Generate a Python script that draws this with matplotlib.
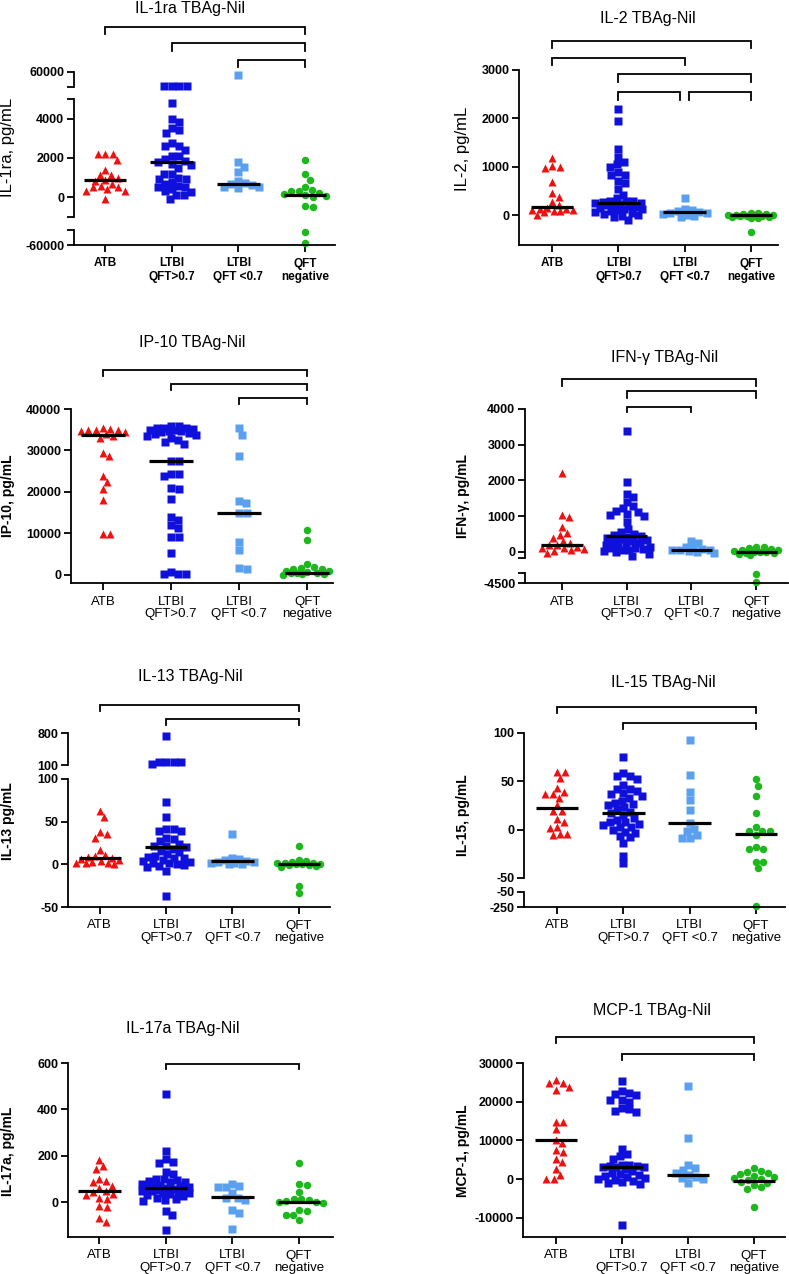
import numpy as np
import matplotlib.pyplot as plt
from matplotlib.transforms import blended_transform_factory

plt.rcParams['font.family'] = ['Liberation Sans', 'DejaVu Sans']

W, H = 789, 1274

groups = ['ATB', 'LTBI\nQFT>0.7', 'LTBI\nQFT <0.7', 'QFT\nnegative']
colors = ['#ee1111', '#1010dd', '#5aa0ee', '#1cb81c']
markers = ['^', 's', 's', 'o']
msize = [6.2, 5.2, 5.2, 5.4]

# ---- data (pg/mL) ----
il1ra_atb = [2200, 2200, 2200, 1900, 1400, 1150, 1150, 1000, 900, 850, 700, 500, 500, 400, 300, 300, -100, 600]
il1ra_hi = [51000, 51000, 51000, 51000, 4800, 3980, 3850, 3500, 3400, 3250, 2750, 2600, 2600, 2400,
            2100, 2100, 1950, 1850, 1800, 1700, 1650, 1500, 1200, 1200, 1000, 950, 950, 800, 700,
            600, 500, 500, 400, 300, 250, 100, 100, -100]
il1ra_lo = [58000, 1800, 1550, 1300, 850, 750, 700, 650, 550, 500, 450]
il1ra_neg = [1900, 1200, 900, 500, 350, 300, 300, 200, 150, 100, 50, 0, -450, -500, -51000, -58500]
il1ra_med = [870, 1800, 690, 120]

il2_atb = [1180, 1000, 980, 1020, 680, 450, 380, 260, 200, 150, 130, 120, 110, 100, 90, 80, 60, 0]
il2_hi = [2200, 1950, 1370, 1200, 1100, 1050, 1000, 880, 830, 820, 700, 660, 530, 420, 350, 300, 280,
          280, 260, 250, 240, 230, 220, 200, 180, 160, 150, 130, 120, 100, 80, 60, 50, 30, 10, -20, -50, -100]
il2_lo = [350, 120, 100, 80, 60, 50, 40, 30, 0, -20, -40]
il2_neg = [50, 40, 30, 20, 10, 0, 0, -10, -10, -20, -30, -40, -50, -60, -70, -350]
il2_med = [160, 240, 55, 0]

ip10_atb = [35500, 35200, 35000, 35000, 34900, 34800, 34500, 34000, 33500, 33000, 29500, 28600,
            23800, 22300, 20800, 18100, 9900, 9900]
ip10_hi = [36000, 35800, 35500, 35500, 35300, 35200, 35000, 35000, 34800, 34700, 34500, 34200, 34000,
           33800, 33500, 33000, 32500, 32000, 31500, 27500, 27500, 24300, 24200, 23800, 21000, 20700,
           18200, 14000, 13200, 12000, 11200, 9200, 9000, 5300, 700, 100, 100, 100]
ip10_lo = [35300, 33700, 28700, 17800, 17300, 15000, 14800, 8000, 6000, 1700, 1300]
ip10_neg = [10900, 8500, 2500, 1800, 1600, 1500, 1400, 1000, 800, 600, 500, 400, 300, 200, 100, 50]
ip10_med = [33700, 27500, 15000, 500]

ifng_atb = [2200, 1030, 970, 690, 540, 480, 390, 300, 250, 200, 180, 150, 120, 100, 80, 50, 20, -20]
ifng_hi = [3380, 1970, 1620, 1530, 1400, 1280, 1230, 1150, 1130, 1050, 1030, 1000, 830, 630, 560, 500,
           480, 450, 420, 400, 350, 320, 300, 280, 250, 220, 200, 180, 150, 120, 100, 80, 60, 40, 20,
           0, -50, -120]
ifng_lo = [300, 250, 150, 100, 80, 60, 50, 40, 20, 0, -30]
ifng_neg = [150, 130, 100, 80, 60, 40, 20, 10, 0, -10, -20, -30, -50, -80, -3850, -4400]
ifng_med = [190, 440, 50, 0]

il13_atb = [62, 55, 38, 36, 31, 17, 11, 10, 9, 8, 6, 5, 4, 3, 2, 1, 1, 0]
il13_hi = [745, 175, 172, 165, 160, 118, 73, 55, 41, 41, 39, 39, 31, 30, 27, 24, 22, 21, 20, 18, 16,
           14, 12, 10, 9, 8, 7, 5, 4, 3, 2, 1, 0, -1, -2, -3, -8, -37]
il13_lo = [35, 8, 6, 5, 4, 3, 3, 2, 1, 0, 0]
il13_neg = [22, 5, 4, 3, 2, 1, 1, 0, 0, 0, -1, -1, -2, -3, -25, -34]
il13_med = [8, 20, 4, 0.5]

il15_atb = [60, 60, 53, 43, 39, 37, 37, 33, 25, 19, 19, 11, 8, 3, 2, -4, -4, -6]
il15_hi = [75, 59, 55, 55, 52, 46, 42, 42, 40, 38, 37, 35, 33, 30, 28, 27, 25, 23, 21, 18, 17, 15,
           12, 10, 8, 8, 6, 5, 3, 3, 0, -2, -3, -7, -8, -14, -27, -35]
il15_lo = [93, 57, 39, 31, 20, 7, 1, -1, -6, -9, -9]
il15_neg = [52, 45, 35, 17, 3, -1, -1, -1, -6, -18, -20, -20, -33, -33, -40, -230]
il15_med = [22, 17, 7, -4]

il17_atb = [183, 155, 145, 100, 90, 85, 70, 60, 50, 45, 35, 30, 20, 15, -15, -20, -70, -85]
il17_hi = [465, 222, 185, 175, 170, 130, 120, 100, 98, 95, 90, 88, 85, 80, 75, 70, 68, 65, 62, 60,
           58, 55, 52, 50, 48, 45, 40, 38, 35, 30, 25, 20, 15, 10, 5, -40, -55, -120]
il17_lo = [80, 70, 65, 65, 40, 20, 20, 10, -35, -45, -115]
il17_neg = [170, 78, 75, 45, 15, 12, 8, 5, 2, 0, -2, -35, -38, -55, -55, -75]
il17_med = [50, 60, 22, 3]

mcp1_atb = [25500, 24900, 24700, 23700, 23000, 14800, 14800, 12900, 10200, 9300, 7500, 7000, 5300,
            4300, 2500, 1000, 100, 0]
mcp1_hi = [25300, 22700, 22300, 22000, 21800, 20500, 20500, 20000, 18300, 18000, 17500, 17200, 7800,
           6500, 6000, 5100, 3700, 3500, 3400, 3300, 3200, 3100, 3000, 2500, 2000, 1500, 1200, 1000,
           800, 500, 300, 0, -200, -500, -800, -1000, -1200, -11800]
mcp1_lo = [24000, 10500, 3700, 2900, 2200, 1500, 1000, 500, 300, 0, -1000]
mcp1_neg = [2800, 2000, 1800, 1500, 1200, 800, 500, 200, 0, -300, -800, -1000, -1500, -2000, -2500, -7300]
mcp1_med = [10000, 3200, 1000, -400]

# ---- layout (pixels) ----
panels = [
    dict(title='IL-1ra TBAg-Nil', tpos=(190, 9), ylabel='IL-1ra, pg/mL', lpos=(8, 147), newstyle=False,
         left=74, right=335, xlim=(-0.465, 3.45),
         segs=[(72, 87, (50000, 60000), [60000], [50000]),
               (99, 217, (-1000, 5000), [0, 2000, 4000], [-1000, 5000]),
               (230, 245, (-60000, -50000), [-60000], [-50000])],
         brk=[(0, 3, 27, 7), (1, 3, 43, 8), (2, 3, 60, 7)],
         data=[il1ra_atb, il1ra_hi, il1ra_lo, il1ra_neg], med=il1ra_med),
    dict(title='IL-2 TBAg-Nil', tpos=(648, 18), ylabel='IL-2, pg/mL', lpos=(462, 149), newstyle=False,
         left=519, right=778, xlim=(-0.5, 3.41),
         segs=[(70, 245, (-620, 3000), [0, 1000, 2000, 3000], [])],
         brk=[(0, 3, 41, 7), (0, 2, 58, 7), (1, 3, 74, 8), (1, 1.93, 92, 8), (2.07, 3, 92, 8)],
         data=[il2_atb, il2_hi, il2_lo, il2_neg], med=il2_med),
    dict(title='IP-10 TBAg-Nil', tpos=(192, 342), ylabel='IP-10, pg/mL', lpos=(8, 496), newstyle=True,
         left=71, right=333, xlim=(-0.47, 3.38),
         segs=[(409, 583, (-2000, 40000), [0, 10000, 20000, 30000, 40000], [])],
         brk=[(0, 3, 370, 6), (1, 3, 384, 6), (2, 3, 398, 6)],
         data=[ip10_atb, ip10_hi, ip10_lo, ip10_neg], med=ip10_med),
    dict(title='IFN-γ TBAg-Nil', tpos=(665, 358), ylabel='IFN-γ, pg/mL', lpos=(463, 496), newstyle=True,
         left=525, right=788, xlim=(-0.57, 3.49),
         segs=[(409, 558, (-170, 4000), [0, 1000, 2000, 3000, 4000], [-170]),
               (573, 583, (-4500, -3800), [-4500], [-3800])],
         brk=[(0, 3, 379, 7), (1, 3, 391, 7), (1, 2, 407, 5)],
         data=[ifng_atb, ifng_hi, ifng_lo, ifng_neg], med=ifng_med),
    dict(title='IL-13 TBAg-Nil', tpos=(190, 677), ylabel='IL-13 pg/mL', lpos=(8, 821), newstyle=True,
         left=68, right=330, xlim=(-0.48, 3.47),
         segs=[(733, 765, (100, 800), [100, 800], []),
               (779, 907, (-50, 100), [-50, 0, 50, 100], [])],
         brk=[(0, 3, 705, 6), (1, 3, 719, 6)],
         data=[il13_atb, il13_hi, il13_lo, il13_neg], med=il13_med),
    dict(title='IL-15 TBAg-Nil', tpos=(663, 683), ylabel='IL-15, pg/mL', lpos=(463, 815), newstyle=True,
         left=524, right=785, xlim=(-0.5, 3.44),
         segs=[(733, 878, (-50, 100), [-50, 0, 50, 100], []),
               (892, 907, (-250, -50), [-250, -50], [])],
         brk=[(0, 3, 707, 6), (1, 3, 723, 6)],
         data=[il15_atb, il15_hi, il15_lo, il15_neg], med=il15_med),
    dict(title='IL-17a TBAg-Nil', tpos=(183, 1028), ylabel='IL-17a, pg/mL', lpos=(8, 1151), newstyle=True,
         left=68, right=333, xlim=(-0.47, 3.51),
         segs=[(1063, 1237, (-150, 600), [0, 200, 400, 600], [])],
         brk=[(1, 3, 1064, 5)],
         data=[il17_atb, il17_hi, il17_lo, il17_neg], med=il17_med),
    dict(title='MCP-1 TBAg-Nil', tpos=(652, 1010), ylabel='MCP-1, pg/mL', lpos=(463, 1151), newstyle=True,
         left=523, right=785, xlim=(-0.5, 3.47),
         segs=[(1063, 1237, (-15000, 30000), [-10000, 0, 10000, 20000, 30000], [])],
         brk=[(0, 3, 1037, 6), (1, 3, 1054, 6)],
         data=[mcp1_atb, mcp1_hi, mcp1_lo, mcp1_neg], med=mcp1_med),
]

LW = 1.3

fig = plt.figure(figsize=(W / 100, H / 100), dpi=100)
fig.patch.set_facecolor('white')


def swarm(ypx, d, maxw):
    # simple beeswarm in pixel units, returns x offsets in pixels
    ypx = np.asarray(ypx, float)
    xs = np.zeros(len(ypx))
    cands = [0.0]
    for s in np.arange(0.5, maxw + 0.01, 0.5):
        cands += [s, -s]
    px, py = [], []
    for idx in np.argsort(-ypx):
        y = ypx[idx]
        best, bestd = 0.0, -1.0
        for c in cands:
            md = np.min(np.hypot(np.array(px) - c, np.array(py) - y)) if px else np.inf
            if md >= d:
                best = c
                break
            if md > bestd:
                best, bestd = c, md
        xs[idx] = best
        px.append(best)
        py.append(y)
    return xs


def seg_for(axes, v):
    for ax in axes:
        lo, hi = ax.get_ylim()
        if lo - 1e-9 <= v <= hi + 1e-9:
            return ax
    return min(axes, key=lambda a: min(abs(v - a.get_ylim()[0]), abs(v - a.get_ylim()[1])))


for p in panels:
    axes = []
    n = len(p['segs'])
    for k, (top, bot, ylim, ticks, caps) in enumerate(p['segs']):
        ax = fig.add_axes([p['left'] / W, 1 - bot / H, (p['right'] - p['left']) / W, (bot - top) / H])
        ax.set_xlim(p['xlim'])
        ax.set_ylim(ylim)
        ax.patch.set_alpha(0)
        for s in ['top', 'right']:
            ax.spines[s].set_visible(False)
        ax.spines['left'].set_linewidth(LW)
        ax.spines['bottom'].set_linewidth(LW)
        ax.set_yticks(list(ticks) + list(caps))
        ax.set_yticklabels([str(int(t)) for t in ticks] + [''] * len(caps),
                           fontsize=9, fontweight='bold')
        ax.tick_params(axis='y', direction='out', length=5, width=LW, pad=2)
        if k == n - 1:
            ax.set_xticks(range(4))
            if p['newstyle']:
                ax.set_xticklabels(groups, fontsize=9.5, linespacing=1.1)
            else:
                ax.set_xticklabels(groups, fontsize=8.5, fontweight='bold', linespacing=1.15)
            ax.tick_params(axis='x', direction='out', length=5, width=LW, pad=4)
        else:
            ax.spines['bottom'].set_visible(False)
            ax.set_xticks([])
        axes.append(ax)

    # points
    ax0 = axes[0]
    upx = ax0.transData.transform((1, 0))[0] - ax0.transData.transform((0, 0))[0]
    for g, vals in enumerate(p['data']):
        ypx = [seg_for(axes, v).transData.transform((0, v))[1] for v in vals]
        offs = swarm(ypx, 7.2, 0.36 * upx) / upx
        for v, o in zip(vals, offs):
            ax = seg_for(axes, v)
            ax.plot(g + o, v, marker=markers[g], ms=msize[g], color=colors[g], mec='none',
                    ls='none', clip_on=False, zorder=2)
        m = p['med'][g]
        seg_for(axes, m).plot([g - 0.32, g + 0.32], [m, m], color='black', lw=2.3,
                              solid_capstyle='butt', zorder=3)

    # significance brackets
    tr = blended_transform_factory(ax0.transData, fig.transFigure)
    for i, j, yt, dr in p['brk']:
        y0 = 1 - yt / H
        y1 = 1 - (yt + dr) / H
        ax0.plot([i, i, j, j], [y1, y0, y0, y1], transform=tr, color='black', lw=LW,
                 clip_on=False, solid_joinstyle='miter')
    ax0.set_xlim(p['xlim'])

    fig.text(p['tpos'][0] / W, 1 - p['tpos'][1] / H, p['title'], ha='center', va='center',
             fontsize=11.5)
    if p['newstyle']:
        fig.text(p['lpos'][0] / W, 1 - p['lpos'][1] / H, p['ylabel'], rotation=90, ha='center',
                 va='center', fontsize=10, fontweight='bold')
    else:
        fig.text(p['lpos'][0] / W, 1 - p['lpos'][1] / H, p['ylabel'], rotation=90, ha='center',
                 va='center', fontsize=12)

fig.savefig('out.png', dpi=100, facecolor='white')
